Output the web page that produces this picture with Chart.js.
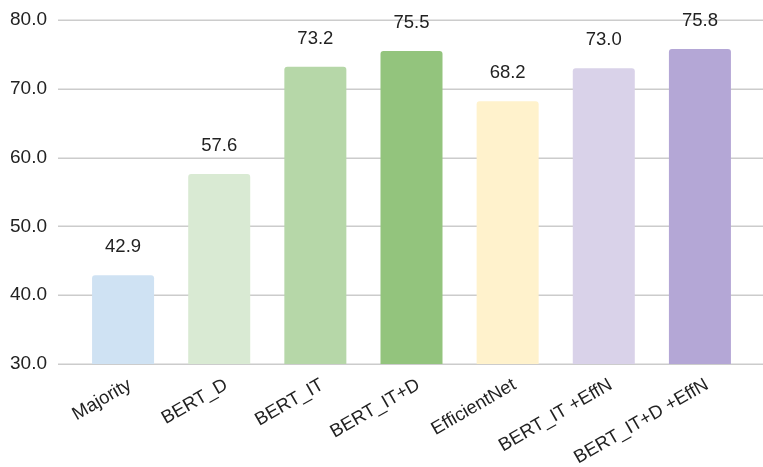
<!DOCTYPE html>
<html>
<head>
<meta charset="utf-8">
<script src="https://cdn.jsdelivr.net/npm/chart.js@4/dist/chart.umd.min.js"></script>
<style>
  html, body { margin: 0; padding: 0; background: #fff; }
  #wrap { width: 763px; height: 467px; position: relative; }
</style>
</head>
<body>
<div id="wrap"><canvas id="c"></canvas></div>
<script>
const categories = ['Majority', 'BERT_D', 'BERT_IT', 'BERT_IT+D', 'EfficientNet', 'BERT_IT +EffN', 'BERT_IT+D +EffN'];
const scores = [42.9, 57.6, 73.2, 75.5, 68.2, 73.0, 75.8];
const barColors = ['#cfe2f3', '#d9ead3', '#b6d7a8', '#93c47d', '#fff2cc', '#d9d2e9', '#b4a7d6'];
const yTicks = [30, 40, 50, 60, 70, 80];

const FONT = '"Liberation Sans", Arial, Helvetica, sans-serif';

// Horizontal guide lines spanning the full canvas width, placed with the y scale
const wideGrid = {
  id: 'wideGrid',
  beforeDatasetsDraw(chart) {
    const { ctx, scales: { y } } = chart;
    ctx.save();
    ctx.strokeStyle = '#cccccc';
    ctx.lineWidth = 1.5;
    yTicks.forEach(v => {
      const py = Math.round(y.getPixelForValue(v)) + 0.25;
      ctx.beginPath();
      ctx.moveTo(58, py);
      ctx.lineTo(chart.width, py);
      ctx.stroke();
    });
    ctx.restore();
  }
};

// Value labels above each bar
const valueLabels = {
  id: 'valueLabels',
  afterDatasetsDraw(chart) {
    const { ctx } = chart;
    const meta = chart.getDatasetMeta(0);
    ctx.save();
    ctx.fillStyle = '#222222';
    ctx.font = '18.5px ' + FONT;
    ctx.textAlign = 'center';
    ctx.textBaseline = 'bottom';
    meta.data.forEach((bar, i) => {
      ctx.fillText(scores[i].toFixed(1), bar.x, bar.y - 19);
    });
    ctx.restore();
  }
};

new Chart(document.getElementById('c'), {
  type: 'bar',
  data: {
    labels: categories,
    datasets: [{
      data: scores,
      backgroundColor: barColors,
      borderRadius: { topLeft: 3, topRight: 3 },
      borderSkipped: false,
      barPercentage: 0.645,
      categoryPercentage: 1.0
    }]
  },
  options: {
    responsive: true,
    maintainAspectRatio: false,
    animation: false,
    layout: { padding: { top: 20, right: 15, left: 0, bottom: 0 } },
    plugins: { legend: { display: false }, tooltip: { enabled: false } },
    scales: {
      x: {
        grid: { display: false, drawTicks: false },
        border: { display: false },
        afterFit(axis) {
          axis.paddingLeft = 0;
          axis.paddingRight = 0;
          axis.height = 103;
        },
        ticks: {
          color: '#222222',
          font: { family: FONT, size: 18.5 },
          minRotation: 30,
          maxRotation: 30,
          autoSkip: false,
          padding: 10,
          labelOffset: 7
        }
      },
      y: {
        min: 30,
        max: 80,
        grid: { display: false, drawTicks: false },
        border: { display: false },
        afterBuildTicks(axis) { axis.ticks = yTicks.map(v => ({ value: v })); },
        afterFit(axis) {
          axis.width = 75;
          axis.paddingTop = 0;
          axis.paddingBottom = 0;
        },
        ticks: {
          color: '#222222',
          font: { family: FONT, size: 19 },
          padding: 28,
          callback: v => Number(v).toFixed(1)
        }
      }
    }
  },
  plugins: [wideGrid, valueLabels]
});
</script>
</body>
</html>
